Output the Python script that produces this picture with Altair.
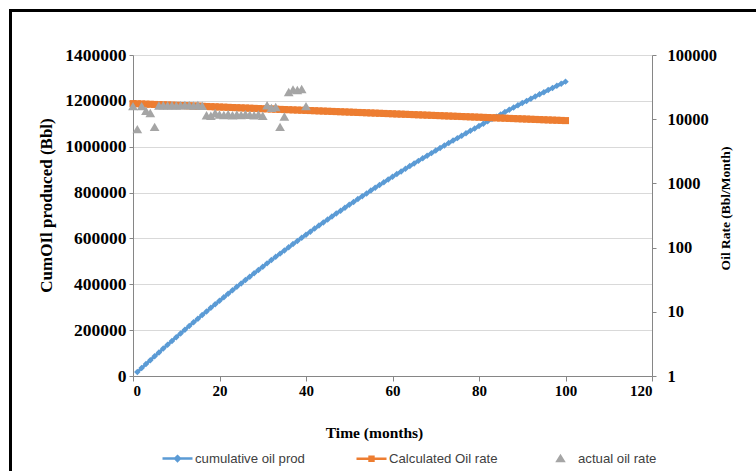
import altair as alt
import pandas as pd

# ---------------- data ----------------
cum_months = list(range(1, 101))
cum_oil = [
    17440, 34760, 51980, 69080, 86060, 102960, 119720, 136390, 152950, 169440,
    185780, 201990, 218150, 234150, 250070, 265900, 281620, 297240, 312750, 328200,
    343500, 358710, 373830, 388840, 403740, 418560, 433280, 447920, 462420, 476880,
    491210, 505440, 519630, 533690, 547650, 561530, 575300, 589030, 602620, 616140,
    629570, 642910, 656150, 669330, 682410, 695410, 708320, 721150, 733910, 746630,
    759200, 771670, 784100, 796420, 808690, 820840, 832930, 844950, 856880, 868790,
    880570, 892270, 903870, 915410, 926890, 938280, 949580, 960820, 972000, 983090,
    994120, 1005060, 1015940, 1026730, 1037450, 1048120, 1058720, 1069240, 1079700, 1090090,
    1100390, 1110640, 1120820, 1130920, 1140960, 1150960, 1160840, 1170700, 1180490, 1190190,
    1199840, 1209420, 1218950, 1228400, 1237790, 1247120, 1256400, 1265590, 1274490, 1283860,
]

calc_months = list(range(0, 101))
calc_rate = [
    17500,
    17390, 17290, 17180, 17080, 16970, 16870, 16770, 16670, 16570, 16460,
    16360, 16260, 16170, 16070, 15970, 15870, 15780, 15680, 15590, 15490,
    15400, 15300, 15210, 15120, 15020, 14930, 14840, 14750, 14660, 14570,
    14480, 14400, 14310, 14220, 14140, 14050, 13960, 13880, 13800, 13710,
    13630, 13550, 13460, 13380, 13300, 13220, 13140, 13060, 12980, 12900,
    12820, 12740, 12670, 12590, 12510, 12440, 12360, 12290, 12210, 12140,
    12060, 11990, 11920, 11840, 11770, 11700, 11630, 11560, 11490, 11420,
    11350, 11280, 11210, 11140, 11080, 11010, 10940, 10870, 10810, 10740,
    10680, 10610, 10550, 10480, 10420, 10360, 10290, 10230, 10170, 10110,
    10050, 9980, 9920, 9860, 9800, 9740, 9680, 9630, 9570, 9510,
]

actual_months = list(range(0, 41))
actual_rate = [
    16000, 7000, 16000, 13500, 12500, 7600, 16300, 16500, 16400, 16500,
    16400, 16500, 16600, 16500, 16400, 16600, 16200, 11500, 11300, 12500,
    11800, 11600, 12000, 11500, 11800, 11600, 12000, 11700, 11500, 11900,
    11300, 16500, 15000, 15500, 7600, 11000, 26500, 29000, 28500, 29500,
    16000,
]

series_names = ["cumulative oil prod", "Calculated Oil rate", "actual oil rate"]
series_colors = ["#5b9bd5", "#ed7d31", "#a5a5a5"]
x_ticks = [0, 20, 40, 60, 80, 100, 120]
left_ticks = [0, 200000, 400000, 600000, 800000, 1000000, 1200000, 1400000]
right_ticks = [1, 10, 100, 1000, 10000, 100000]

cum_df = pd.DataFrame({"month": cum_months, "cum": cum_oil})
calc_df = pd.DataFrame({"month": calc_months, "rate": calc_rate})
act_df = pd.DataFrame({"month": actual_months, "rate": actual_rate})
leg_df = pd.DataFrame({"series": series_names})

SERIF = "Liberation Serif"
SANS = "Liberation Sans"
AX_GRAY = "#868686"

x_enc = alt.X(
    "month:Q",
    scale=alt.Scale(domain=[0, 120], nice=False),
    axis=alt.Axis(
        values=x_ticks, grid=False, format="d",
        domainColor=AX_GRAY, tickColor=AX_GRAY, tickSize=5,
        labelFont=SERIF, labelFontWeight="bold", labelFontSize=15, labelColor="black",
        labelPadding=2,
        title="Time (months)", titleFont=SERIF, titleFontWeight="bold",
        titleFontSize=15.5, titleColor="black",
        titleX=241, titleY=56, titleBaseline="middle",
    ),
)

left_axis = alt.Axis(
    values=left_ticks, format="d", orient="left",
    grid=True, gridColor="#d9d9d9", gridWidth=1,
    domainColor=AX_GRAY, tickColor=AX_GRAY, tickSize=4,
    labelFont=SERIF, labelFontWeight="bold", labelFontSize=17.5, labelColor="black",
    labelPadding=3,
    title="CumOIl produced (Bbl)", titleFont=SERIF, titleFontWeight="bold",
    titleFontSize=17, titleColor="black", titleAngle=270,
    titleX=-87, titleY=150, titleBaseline="middle", titleAlign="center",
)

right_axis = alt.Axis(
    values=right_ticks, format="d", orient="right",
    grid=False,
    domainColor=AX_GRAY, tickColor=AX_GRAY, tickSize=4,
    labelFont=SERIF, labelFontWeight="bold", labelFontSize=16.5, labelColor="black",
    labelPadding=11,
    title="Oil Rate (Bbl/Month)", titleFont=SERIF, titleFontWeight="bold",
    titleFontSize=13.5, titleColor="black", titleAngle=270,
    titleX=73, titleY=153, titleBaseline="middle", titleAlign="center",
)

y_left = alt.Y("cum:Q", scale=alt.Scale(domain=[0, 1400000], nice=False), axis=left_axis)
y_right = alt.Y("rate:Q", scale=alt.Scale(type="log", domain=[1, 100000], nice=False), axis=right_axis)

blue_line = alt.Chart(cum_df).mark_line(color="#5b9bd5", strokeWidth=3).encode(x=x_enc, y=y_left)
blue_pts = alt.Chart(cum_df).mark_point(shape="diamond", filled=True, size=42, color="#5b9bd5", opacity=1).encode(x=x_enc, y=y_left)
left_group = alt.layer(blue_line, blue_pts)

orange_line = alt.Chart(calc_df).mark_line(color="#ed7d31", strokeWidth=2.5).encode(x=x_enc, y=y_right)
orange_pts = alt.Chart(calc_df).mark_square(size=50, color="#ed7d31", opacity=1).encode(x=x_enc, y=y_right)
gray_pts = alt.Chart(act_df).mark_point(shape="triangle-up", filled=True, size=95, color="#a5a5a5", opacity=1).encode(x=x_enc, y=y_right)
right_group = alt.layer(orange_line, orange_pts, gray_pts)

# legend symbols: line + marker drawn as custom paths (nested outlines to look filled)
legend_paths = [
    "M-1,0H1M0,-0.16L0.16,0L0,0.16L-0.16,0ZM0,-0.06L0.06,0L0,0.06L-0.06,0Z",
    "M-1,0H1M-0.13,-0.13H0.13V0.13H-0.13ZM-0.05,-0.05H0.05V0.05H-0.05Z",
    "M0,-0.17L0.2,0.15L-0.2,0.15ZM0,-0.05L0.07,0.08L-0.07,0.08Z",
]
legend_def = alt.Legend(
    title=None, orient="none", direction="horizontal",
    legendX=28, legendY=387, padding=0,
    columnPadding=46, symbolSize=900, symbolStrokeWidth=2.5, symbolOpacity=1,
    labelFont=SANS, labelFontSize=13.2, labelColor="#404040", labelOffset=1,
)
legend_layer = alt.Chart(leg_df).mark_point(filled=False, opacity=0).encode(
    color=alt.Color("series:N", scale=alt.Scale(domain=series_names, range=series_colors), legend=legend_def),
    shape=alt.Shape("series:N", scale=alt.Scale(domain=series_names, range=legend_paths), legend=legend_def),
)

frame_data = alt.Data(values=[{}])
frame_top = alt.Chart(frame_data).mark_rule(color="black", strokeWidth=3).encode(
    x=alt.value(-124), x2=alt.value(640), y=alt.value(-44.5)
)
frame_left = alt.Chart(frame_data).mark_rule(color="black", strokeWidth=3).encode(
    x=alt.value(-122.5), y=alt.value(-46), y2=alt.value(430)
)

chart = (
    alt.layer(left_group, right_group, legend_layer, frame_top, frame_left)
    .resolve_scale(y="independent")
    .properties(
        width=519, height=321,
        autosize=alt.AutoSizeParams(type="none"),
        padding={"left": 133, "top": 55, "right": 104, "bottom": 95},
        background="white",
    )
    .configure_view(stroke=None)
)

chart.save("out.html", embed_options={"renderer": "svg", "actions": False})
